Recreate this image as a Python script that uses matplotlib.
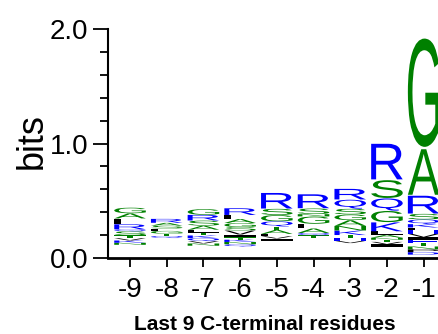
import matplotlib
matplotlib.use("Agg")
import matplotlib.pyplot as plt
from matplotlib.textpath import TextPath
from matplotlib.patches import PathPatch
from matplotlib.font_manager import FontProperties, fontManager
import matplotlib.transforms as mtrans

# ---------------- data ----------------
positions = [-9, -8, -7, -6, -5, -4, -3, -2, -1]
tick_labels = ["-9", "-8", "-7", "-6", "-5", "-4", "-3", "-2", "-1"]
xlabel_text = "Last 9 C-terminal residues"
ylabel_text = "bits"

# letters listed from top of stack to bottom, with heights in bits
letters_m9 = list("GALRQSTVKNIPEHDFMYCW")
bits_m9 = [0.05, 0.045, 0.05, 0.045, 0.017, 0.035, 0.025, 0.02, 0.02, 0.018,
           0.016, 0.015, 0.014, 0.013, 0.012, 0.011, 0.01, 0.009, 0.008, 0.007]

letters_m8 = list("RASLGTQVKNIEPHDFMYCW")
bits_m8 = [0.035, 0.025, 0.025, 0.02, 0.025, 0.02, 0.018, 0.016, 0.016, 0.016,
           0.015, 0.015, 0.014, 0.014, 0.013, 0.013, 0.012, 0.011, 0.01, 0.009]

letters_m7 = list("GRSALTKQVNIEPHDFMYCW")
bits_m7 = [0.05, 0.05, 0.045, 0.035, 0.025, 0.025, 0.025, 0.025, 0.02, 0.02,
           0.014, 0.013, 0.013, 0.012, 0.011, 0.01, 0.01, 0.009, 0.008, 0.007]

letters_m6 = list("RLAGSVITKNQEPHDFMYCW")
bits_m6 = [0.06, 0.035, 0.035, 0.035, 0.03, 0.035, 0.025, 0.02, 0.02, 0.02,
           0.02, 0.014, 0.013, 0.012, 0.012, 0.011, 0.01, 0.01, 0.009, 0.009]

letters_m5 = list("RSGQTALVIKNEPHDFMYCW")
bits_m5 = [0.14, 0.055, 0.055, 0.045, 0.03, 0.035, 0.02, 0.02, 0.02, 0.016,
           0.016, 0.016, 0.015, 0.015, 0.014, 0.013, 0.012, 0.012, 0.011, 0.01]

letters_m4 = list("RSNGLAQTVKIEPHDFMYCW")
bits_m4 = [0.125, 0.05, 0.02, 0.065, 0.04, 0.04, 0.02, 0.02, 0.016, 0.016,
           0.016, 0.016, 0.016, 0.015, 0.015, 0.015, 0.014, 0.014, 0.013, 0.012]

letters_m3 = list("RQSGANKTHVLDPEFMYCWI")
bits_m3 = [0.095, 0.08, 0.05, 0.05, 0.05, 0.04, 0.04, 0.025, 0.025, 0.02,
           0.016, 0.015, 0.015, 0.015, 0.014, 0.013, 0.012, 0.011, 0.01, 0.009]

letters_m2 = list("RSQGKLANTVIHEPDFMYCW")
bits_m2 = [0.32, 0.16, 0.11, 0.1, 0.08, 0.03, 0.025, 0.018, 0.018, 0.022,
           0.02, 0.015, 0.014, 0.013, 0.012, 0.011, 0.01, 0.009, 0.008, 0.007]

letters_m1 = list("GARSQKLHVIETNPDFMYCW")
bits_m1 = [0.975, 0.41, 0.16, 0.05, 0.04, 0.03, 0.025, 0.03, 0.03, 0.025,
           0.025, 0.03, 0.025, 0.025, 0.022, 0.007, 0.006, 0.006, 0.005, 0.005]

column_letters = [letters_m9, letters_m8, letters_m7, letters_m6, letters_m5,
                  letters_m4, letters_m3, letters_m2, letters_m1]
column_bits = [bits_m9, bits_m8, bits_m7, bits_m6, bits_m5,
               bits_m4, bits_m3, bits_m2, bits_m1]

# ---------------- style ----------------
GREEN = "#008000"
BLUE = "#0000FF"
BLACK = "#000000"
color_of = {}
for c in "GSTYCNA":
    color_of[c] = GREEN
for c in "RKHQDE":
    color_of[c] = BLUE
for c in "LVIMFPW":
    color_of[c] = BLACK

min_drawn = 0.0165  # letters thinner than this are too thin to show

names = {f.name for f in fontManager.ttflist}
narrow = "Liberation Sans Narrow" if "Liberation Sans Narrow" in names else "Liberation Sans"

fig = plt.figure(figsize=(4.38, 3.34), dpi=100)
ax = fig.add_axes([108 / 438, 76 / 334, 334 / 438, 229 / 334])
ax.set_xlim(-9.6, -0.5)
ax.set_ylim(0, 2.0)

glyph_fp = FontProperties(family="Liberation Sans")
col_w = 0.86


def draw_letter(ch, xc, y0, h, color):
    tp = TextPath((0, 0), ch, size=1, prop=glyph_fp)
    bb = tp.get_extents()
    sx = col_w / bb.width
    sy = h * 0.97 / bb.height
    t = (mtrans.Affine2D().translate(-bb.x0, -bb.y0).scale(sx, sy)
         .translate(xc - col_w / 2, y0 + h * 0.015))
    ax.add_patch(PathPatch(t.transform_path(tp), facecolor=color,
                           edgecolor="none", clip_on=False))


for xc, lets, hts in zip(positions, column_letters, column_bits):
    y = 0.0
    for ch, h in zip(reversed(lets), reversed(hts)):
        if h >= min_drawn:
            draw_letter(ch, xc, y, h, color_of[ch])
        y += h

for s in ["top", "right"]:
    ax.spines[s].set_visible(False)
ax.spines["left"].set_linewidth(1.5)
ax.spines["bottom"].set_linewidth(2.0)

ax.set_xticks(positions)
ax.set_xticklabels(tick_labels, fontfamily=narrow, fontsize=20)
ax.set_yticks([0, 1, 2])
ax.set_yticklabels(["0.0", "1.0", "2.0"], fontfamily=narrow, fontsize=20)
ax.set_yticks([0.2, 0.4, 0.6, 0.8, 1.2, 1.4, 1.6, 1.8], minor=True)
ax.tick_params(axis="y", which="major", direction="out", length=11, width=1.3, pad=3)
ax.tick_params(axis="y", which="minor", direction="out", length=6, width=1.3)
ax.tick_params(axis="x", which="major", direction="out", length=6.5, width=1.3, pad=7)

fig.text(32 / 438, 1 - 141 / 334, ylabel_text, rotation=90, ha="center",
         va="center", fontsize=26, fontfamily="Liberation Sans")
fig.text(264.5 / 438, 1 - 330 / 334, xlabel_text, ha="center", va="baseline",
         fontsize=15, fontweight="bold", fontfamily="Liberation Sans")

fig.savefig("out.png", dpi=100)
